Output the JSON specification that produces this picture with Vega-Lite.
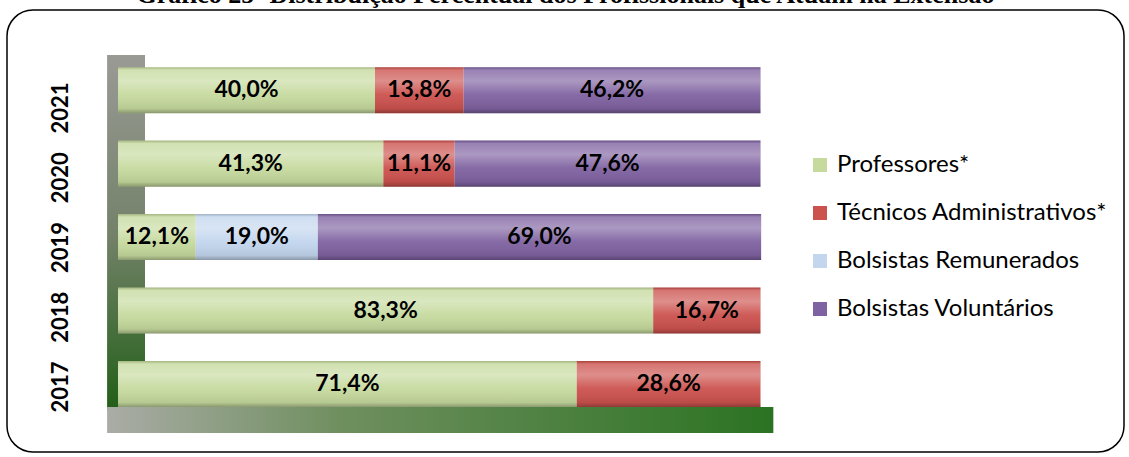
{
  "$schema": "https://vega.github.io/schema/vega-lite/v6.json",
  "width": 1117,
  "height": 442,
  "autosize": {"type": "none"},
  "padding": {"left": 7, "top": 10, "right": 5, "bottom": 5},
  "background": "white",
  "title": {
    "text": "Gráfico 25- Distribuição Percentual dos Profissionais que Atuam na Extensão",
    "font": "Liberation Serif",
    "fontSize": 26,
    "fontWeight": "bold",
    "color": "#000000",
    "anchor": "middle",
    "offset": 2
  },
  "data": {
    "values": [
      {"year": "2021", "cat": "Professores*", "ord": 1, "value": 0.400},
      {"year": "2021", "cat": "Técnicos Administrativos*", "ord": 2, "value": 0.138},
      {"year": "2021", "cat": "Bolsistas Voluntários", "ord": 4, "value": 0.462},
      {"year": "2020", "cat": "Professores*", "ord": 1, "value": 0.413},
      {"year": "2020", "cat": "Técnicos Administrativos*", "ord": 2, "value": 0.111},
      {"year": "2020", "cat": "Bolsistas Voluntários", "ord": 4, "value": 0.476},
      {"year": "2019", "cat": "Professores*", "ord": 1, "value": 0.121},
      {"year": "2019", "cat": "Bolsistas Remunerados", "ord": 3, "value": 0.190},
      {"year": "2019", "cat": "Bolsistas Voluntários", "ord": 4, "value": 0.690},
      {"year": "2018", "cat": "Professores*", "ord": 1, "value": 0.833},
      {"year": "2018", "cat": "Técnicos Administrativos*", "ord": 2, "value": 0.167},
      {"year": "2017", "cat": "Professores*", "ord": 1, "value": 0.714},
      {"year": "2017", "cat": "Técnicos Administrativos*", "ord": 2, "value": 0.286}
    ]
  },
  "layer": [
    {
      "data": {"values": [{}]},
      "mark": {
        "type": "rect",
        "color": {
          "gradient": "linear", "x1": 0, "y1": 0, "x2": 0, "y2": 1,
          "stops": [
            {"offset": 0, "color": "#9a9a95"},
            {"offset": 0.5, "color": "#74826a"},
            {"offset": 1, "color": "#225f18"}
          ]
        }
      },
      "encoding": {
        "x": {"datum": -0.017, "type": "quantitative", "scale": {"domain": [-0.1728, 1.5658], "nice": false, "zero": false}, "axis": null},
        "x2": {"datum": 0.042},
        "y": {"datum": "wall", "type": "nominal", "scale": {"type": "band", "domain": ["wall"], "paddingInner": 0, "paddingOuter": 0.1225, "align": 0.517}, "axis": null}
      }
    },
    {
      "data": {"values": [{}]},
      "mark": {
        "type": "rect",
        "color": {
          "gradient": "linear", "x1": 0, "y1": 0, "x2": 1, "y2": 0,
          "stops": [
            {"offset": 0, "color": "#aaaca6"},
            {"offset": 0.35, "color": "#6f8f5f"},
            {"offset": 1, "color": "#2b7322"}
          ]
        }
      },
      "encoding": {
        "x": {"datum": -0.017, "type": "quantitative", "axis": null},
        "x2": {"datum": 1.02},
        "y": {"datum": "floor", "type": "nominal", "scale": {"type": "band", "domain": ["above", "floor"], "paddingInner": 0.9345, "paddingOuter": 0.0239, "align": 0}, "axis": null}
      }
    },
    {
      "transform": [{"stack": "value", "groupby": ["year"], "sort": [{"field": "ord", "order": "ascending"}], "as": ["x0", "x1"]}],
      "mark": {"type": "bar", "strokeWidth": 0},
      "encoding": {
        "x": {"field": "x0", "type": "quantitative", "axis": null},
        "x2": {"field": "x1"},
        "y": {"field": "year", "type": "nominal", "scale": {"type": "band", "domain": ["2021", "2020", "2019", "2018", "2017"], "paddingInner": 0.374, "paddingOuter": 0.694, "align": 0.56}, "axis": null},
        "color": {
          "field": "cat", "type": "nominal",
          "scale": {
            "domain": ["Professores*", "Técnicos Administrativos*", "Bolsistas Remunerados", "Bolsistas Voluntários"],
            "range": ["#c6da9e", "#cc524e", "#c3d6ee", "#7f62a1"]
          },
          "legend": {
            "title": null, "orient": "none", "legendX": 801, "legendY": 143, "padding": 0,
            "labelFont": "Lato", "labelFontSize": 24, "labelColor": "#000000", "labelOffset": 5,
            "symbolType": "square", "symbolSize": 196, "symbolStrokeWidth": 0, "rowPadding": 24, "labelLimit": 400
          }
        }
      }
    },
    {
      "transform": [{"stack": "value", "groupby": ["year"], "sort": [{"field": "ord", "order": "ascending"}], "as": ["x0", "x1"]}],
      "mark": {
        "type": "bar", "strokeWidth": 0,
        "color": {
          "gradient": "linear", "x1": 0, "y1": 0, "x2": 0, "y2": 1,
          "stops": [
            {"offset": 0, "color": "rgba(0,0,0,0.15)"},
            {"offset": 0.06, "color": "rgba(255,255,255,0.2)"},
            {"offset": 0.3, "color": "rgba(255,255,255,0.35)"},
            {"offset": 0.6, "color": "rgba(255,255,255,0.05)"},
            {"offset": 0.9, "color": "rgba(0,0,0,0.08)"},
            {"offset": 1, "color": "rgba(0,0,0,0.3)"}
          ]
        }
      },
      "encoding": {
        "x": {"field": "x0", "type": "quantitative", "axis": null},
        "x2": {"field": "x1"},
        "y": {"field": "year", "type": "nominal", "scale": {"type": "band", "domain": ["2021", "2020", "2019", "2018", "2017"], "paddingInner": 0.374, "paddingOuter": 0.694, "align": 0.56}, "axis": null}
      }
    },
    {
      "transform": [
        {"stack": "value", "groupby": ["year"], "sort": [{"field": "ord", "order": "ascending"}], "as": ["x0", "x1"]},
        {"fold": ["x0", "x1"], "as": ["edge", "pos"]}
      ],
      "mark": {"type": "text", "font": "Lato", "fontSize": 23, "fontWeight": "bold", "color": "#000000", "align": "center", "baseline": "middle"},
      "encoding": {
        "x": {"field": "pos", "aggregate": "mean", "type": "quantitative", "axis": null},
        "y": {"field": "year", "type": "nominal", "scale": {"type": "band", "domain": ["2021", "2020", "2019", "2018", "2017"], "paddingInner": 0.374, "paddingOuter": 0.694, "align": 0.56}, "axis": null},
        "detail": {"field": "cat", "type": "nominal"},
        "text": {"field": "value", "aggregate": "max", "type": "quantitative", "format": ".1%"}
      }
    },
    {
      "mark": {"type": "point", "opacity": 0},
      "encoding": {
        "y": {
          "field": "year", "type": "nominal",
          "scale": {"type": "band", "domain": ["2021", "2020", "2019", "2018", "2017"], "paddingInner": 0, "paddingOuter": 0.668, "align": 0.677},
          "axis": {
            "orient": "left", "offset": -60, "title": null, "domain": false, "ticks": false, "grid": false,
            "labelAngle": -90, "labelAlign": "center", "labelBaseline": "alphabetic", "labelPadding": 0,
            "labelFont": "Lato", "labelFontSize": 22, "labelFontWeight": "bold", "labelColor": "#000000",
            "labelOverlap": false, "labelFlush": false, "labelBound": false
          }
        }
      }
    }
  ],
  "resolve": {"scale": {"y": "independent"}, "axis": {"y": "independent"}},
  "config": {
    "view": {"stroke": "#000000", "strokeWidth": 1.5, "cornerRadius": 26, "fill": "white"},
    "locale": {"number": {"decimal": ",", "thousands": ".", "grouping": [3], "currency": ["R$", ""]}}
  }
}
